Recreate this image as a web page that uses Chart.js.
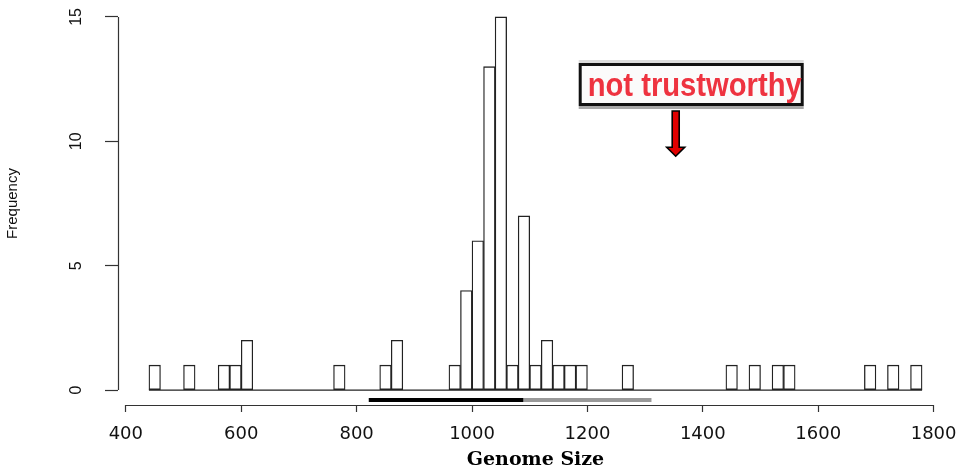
<!DOCTYPE html>
<html>
<head>
<meta charset="utf-8">
<script src="https://cdn.jsdelivr.net/npm/chart.js@4.4.1/dist/chart.umd.min.js"></script>
<style>
  html, body { margin: 0; padding: 0; background: #ffffff; }
  #wrap { width: 963px; height: 468px; position: relative; }
</style>
</head>
<body>
<div id="wrap"><canvas id="chart"></canvas></div>
<script>
// ---- data (bins of width 20) ----
const binWidth = 20;
const binStarts = [
   440,  460,  480,  500,  520,  540,  560,  580,  600,  620,
   640,  660,  680,  700,  720,  740,  760,  780,  800,  820,
   840,  860,  880,  900,  920,  940,  960,  980, 1000, 1020,
  1040, 1060, 1080, 1100, 1120, 1140, 1160, 1180, 1200, 1220,
  1240, 1260, 1280, 1300, 1320, 1340, 1360, 1380, 1400, 1420,
  1440, 1460, 1480, 1500, 1520, 1540, 1560, 1580, 1600, 1620,
  1640, 1660, 1680, 1700, 1720, 1740, 1760
];
const frequencies = [
   1, 0, 0, 1, 0, 0, 1, 1, 2, 0,
   0, 0, 0, 0, 0, 0, 1, 0, 0, 0,
   1, 2, 0, 0, 0, 0, 1, 4, 6, 13,
  15, 1, 7, 1, 2, 1, 1, 1, 0, 0,
   0, 1, 0, 0, 0, 0, 0, 0, 0, 0,
   1, 0, 1, 0, 1, 1, 0, 0, 0, 0,
   0, 0, 1, 0, 1, 0, 1
];
// interval bars drawn under the histogram
const intervalBlack = [821, 1089];
const intervalGray  = [1089, 1311];
const intervalLevel = -0.4;

const xTicks = [400, 600, 800, 1000, 1200, 1400, 1600, 1800];
const yTicks = [0, 5, 10, 15];
const xLimits = [386.4, 1833.6];
const yLimits = [-0.6, 15.6];

const annotationText = 'not trustworthy';
const annotationTarget = 1353;

// ---- build library structures ----
const histPoints = binStarts.map((s, i) => ({ x: s + binWidth / 2, y: frequencies[i] }));
const baseline = [
  { x: binStarts[0], y: 0 },
  { x: binStarts[binStarts.length - 1] + binWidth, y: 0 }
];
const blackPts = intervalBlack.map(v => ({ x: v, y: intervalLevel }));
const grayPts = intervalGray.map(v => ({ x: v, y: intervalLevel }));

const rStyle = {
  id: 'rStyle',
  afterDraw(chart) {
    const { ctx, scales: { x, y } } = chart;
    ctx.save();
    // axis lines spanning first to last tick (R style)
    ctx.strokeStyle = '#333';
    ctx.lineWidth = 1.2;
    ctx.beginPath();
    const yb = Math.round(x.top) + 0.5;
    ctx.moveTo(x.getPixelForValue(xTicks[0]), yb);
    ctx.lineTo(x.getPixelForValue(xTicks[xTicks.length - 1]), yb);
    const xl = Math.round(y.right) + 0.5;
    ctx.moveTo(xl, y.getPixelForValue(yTicks[0]));
    ctx.lineTo(xl, y.getPixelForValue(yTicks[yTicks.length - 1]));
    ctx.stroke();

    // annotation box
    const ax = x.getPixelForValue(annotationTarget);
    const bl = ax - 97, br = ax + 128, bt = 63, bb = 107;
    ctx.fillStyle = '#dcdcdc';
    ctx.fillRect(bl, bt - 3, br - bl, 3);
    ctx.fillStyle = '#a8a8a8';
    ctx.fillRect(bl, bb - 1, br - bl, 3);
    ctx.fillStyle = '#fbfbfb';
    ctx.fillRect(bl, bt, br - bl, bb - bt - 1);
    ctx.strokeStyle = '#111';
    ctx.lineWidth = 3;
    ctx.strokeRect(bl + 1.5, bt + 1.5, br - bl - 3, bb - bt - 4);

    ctx.font = 'bold 33px "Liberation Sans", Arial, sans-serif';
    const tw = ctx.measureText(annotationText).width;
    const targetW = 214;
    ctx.save();
    ctx.translate(bl + 9, 96);
    ctx.scale(targetW / tw, 1);
    ctx.fillStyle = '#ee3340';
    ctx.textBaseline = 'alphabetic';
    ctx.fillText(annotationText, 0, 0);
    ctx.restore();

    // arrow
    const tipY = y.getPixelForValue(9.4);
    const topY = 111;
    ctx.beginPath();
    ctx.moveTo(ax - 3.5, topY);
    ctx.lineTo(ax + 3.5, topY);
    ctx.lineTo(ax + 3.5, tipY - 9);
    ctx.lineTo(ax + 9, tipY - 9);
    ctx.lineTo(ax, tipY);
    ctx.lineTo(ax - 9, tipY - 9);
    ctx.lineTo(ax - 3.5, tipY - 9);
    ctx.closePath();
    ctx.fillStyle = '#e00000';
    ctx.fill();
    ctx.strokeStyle = '#000';
    ctx.lineWidth = 1.6;
    ctx.stroke();
    ctx.restore();
  }
};

new Chart(document.getElementById('chart'), {
  data: {
    datasets: [
      {
        type: 'bar',
        label: 'Frequency',
        data: histPoints,
        backgroundColor: '#ffffff',
        borderColor: '#222222',
        borderWidth: 1.3,
        borderSkipped: false,
        barPercentage: 1,
        categoryPercentage: 1,
        order: 2
      },
      {
        type: 'line',
        data: baseline,
        borderColor: '#222222',
        borderWidth: 1.3,
        pointRadius: 0,
        order: 1
      },
      {
        type: 'line',
        data: blackPts,
        borderColor: '#000000',
        borderWidth: 4,
        pointRadius: 0,
        order: 1
      },
      {
        type: 'line',
        data: grayPts,
        borderColor: '#999999',
        borderWidth: 4,
        pointRadius: 0,
        order: 1
      }
    ]
  },
  options: {
    responsive: true,
    maintainAspectRatio: false,
    animation: false,
    layout: { padding: { left: 0, top: 2, right: 10, bottom: 0 } },
    plugins: { legend: { display: false }, tooltip: { enabled: false } },
    scales: {
      x: {
        type: 'linear',
        min: xLimits[0],
        max: xLimits[1],
        offset: false,
        afterBuildTicks: s => { s.ticks = xTicks.map(v => ({ value: v })); },
        afterFit: s => { s.height = 63; s.paddingLeft = 0; s.paddingRight = 0; s.paddingTop = 0; s.paddingBottom = 0; },
        border: { display: false },
        grid: { display: true, offset: false, drawOnChartArea: false, drawTicks: true, tickLength: 7, tickColor: '#333', tickWidth: 1.2 },
        ticks: { font: { family: 'DejaVu Sans', size: 18 }, color: '#111', padding: 12, maxRotation: 0, autoSkip: false, callback: v => String(v) },
        title: { display: true, text: 'Genome Size', color: '#000', font: { family: 'DejaVu Serif', size: 19, weight: 'bold' }, padding: { top: 0, bottom: -3 } }
      },
      y: {
        type: 'linear',
        min: yLimits[0],
        max: yLimits[1],
        afterBuildTicks: s => { s.ticks = yTicks.map(v => ({ value: v })); },
        afterFit: s => { s.width = 118; s.paddingTop = 0; s.paddingBottom = 0; s.paddingLeft = 0; s.paddingRight = 0; },
        border: { display: false },
        grid: { display: true, drawOnChartArea: false, drawTicks: true, tickLength: 13, tickColor: '#333', tickWidth: 1.2 },
        ticks: { font: { family: 'Liberation Sans', size: 16 }, color: '#111', minRotation: 90, maxRotation: 90, crossAlign: 'center', padding: 20, autoSkip: false, callback: v => String(v) },
        title: { display: true, text: 'Frequency', color: '#111', font: { family: 'Liberation Sans', size: 15 }, padding: { top: 4, bottom: 0 } }
      }
    }
  },
  plugins: [rStyle]
});
</script>
</body>
</html>
